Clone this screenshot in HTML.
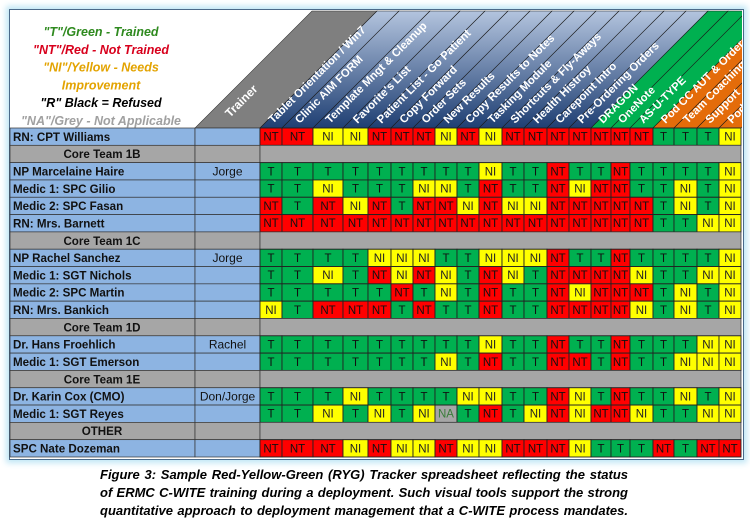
<!DOCTYPE html>
<html><head><meta charset="utf-8">
<style>
html,body{margin:0;padding:0;background:#fff;width:750px;height:519px;overflow:hidden;font-family:"Liberation Sans",sans-serif}
#frame{position:absolute;left:9px;top:9px;width:733px;height:449px;border:1px solid #4a6a8a;box-shadow:0 0 6px 3px #bfe6f5}
svg{position:absolute;left:0;top:0}
.cap{position:absolute;left:100px;width:528px;font:italic bold 13px "Liberation Sans",sans-serif;line-height:18px;top:466px;color:#000}
.cap div{text-align:justify;text-align-last:justify;white-space:nowrap;overflow:visible}
</style></head><body>
<div id="frame"></div>
<svg id="chart" width="750" height="519"></svg>
<div class="cap">
<div>Figure 3: Sample Red-Yellow-Green (RYG) Tracker spreadsheet reflecting the status</div>
<div>of ERMC C-WITE training during a deployment. Such visual tools support the strong</div>
<div>quantitative approach to deployment management that a C-WITE process mandates.</div>
</div>
<script>
const columns=["Tablet Orientation / Win7","Clinic AIM FORM","Template Mngt & Cleanup","Favorite's List","Patient List - Go Patient","Copy Forward","Order Sets","New Results","Copy Results to Notes","Tasking Module","Shortcuts & Fly-Aways","Health Histroy","Carepoint Intro","Pre-Ordering Orders","DRAGON","OneNote","AS-U-TYPE","Pod CC AUT & Orders","Team Coaching","Support","Pod"];
const columnGroups=["b","b","b","b","b","b","b","b","b","b","b","b","b","b","g","g","g","o","o","o","o"];
const rowNames=["RN: CPT Williams","Core Team 1B","NP Marcelaine Haire","Medic 1: SPC Gilio","Medic 2: SPC Fasan","RN: Mrs. Barnett","Core Team 1C","NP Rachel Sanchez","Medic 1: SGT Nichols","Medic 2: SPC Martin","RN: Mrs. Bankich","Core Team 1D","Dr. Hans Froehlich","Medic 1: SGT Emerson","Core Team 1E","Dr. Karin Cox (CMO)","Medic 1: SGT Reyes","OTHER","SPC Nate Dozeman"];
const trainers=["","","Jorge","","","","","Jorge","","","","","Rachel","","","Don/Jorge","","",""];
const statuses=[
"NT NT NI NI NT NT NT NI NT NI NT NT NT NT NT NT NT T T T NI",
"",
"T T T T T T T T T NI T T NT T T NT T T T T NI",
"T T NI T T T NI NI T NT T T NT NI NT NT T T NI T NI",
"NT T NT NI NT T NT NT NI NT NI NI NT NT NT NT NT T NI T NI",
"NT NT NT NT NT NT NT NT NT NT NT NT NT NT NT NT NT T T NI NI",
"",
"T T T T NI NI NI T T NI NI NI NT T T NT T T T T NI",
"T T NI T NT NI NT NI T NT NI T NT NT NT NT NI T T NI NI",
"T T T T T NT T NI T NT T T NT NI NT NT NT T NI T NI",
"NI T NT NT NT T NT T T NT T T NT NT NT NT NI T NI T NI",
"",
"T T T T T T T T T NI T T NT T T NT T T T NI NI",
"T T T T T T T NI T NT T T NT NT T NT T T NI NI NI",
"",
"T T T NI T T T T NI NI T T NT NI T NT T T NI T NI",
"T T NI T NI T NI NA T NT T NI NT NI NT NT NI T T NI NI",
"",
"NT NT NT NI NT NI NI NT NI NI NT NT NT NI T T T NT T NT NT"];
const legendItems=['"T"/Green - Trained','"NT"/Red - Not Trained','"NI"/Yellow - Needs','Improvement','"R" Black = Refused','"NA"/Grey - Not Applicable'];
const legendColors=["#2f8a1f","#d8001c","#e3a300","#e3a300","#000","#a0a0a0"];

const NS="http://www.w3.org/2000/svg";
const svg=document.getElementById("chart");
const colX=[260,282,313,343,368,391,413,435,457,479,502,524,547,569,591,611,630,653,674,697,719,741];
const TOP=128,BOT=457,HTOP=11,RH=(BOT-TOP)/rowNames.length;
const rowY=i=>TOP+i*RH;
const fill={T:"#00b050",NT:"#ff0000",NI:"#ffff00",NA:"#a6a6a6"};
const txtc={T:"#111",NT:"#111",NI:"#222",NA:"#3a7d3a"};
const hdrFill={b:"url(#blueg)",g:"#00b050",o:"#e46c0a"};
function el(t,a,p){const e=document.createElementNS(NS,t);for(const k in a)e.setAttribute(k,a[k]);(p||svg).appendChild(e);return e;}
const defs=el("defs",{});
const lg=el("linearGradient",{id:"blueg",x1:"0",y1:"1",x2:"0",y2:"0"},defs);
el("stop",{offset:"0","stop-color":"#1f3f73"},lg);el("stop",{offset:"1","stop-color":"#b3c4de"},lg);
const cp=el("clipPath",{id:"hclip"},defs);el("rect",{x:10,y:10,width:732,height:118},cp);
const hg=el("g",{"clip-path":"url(#hclip)"});


const H=TOP-HTOP;
const tp=el("polygon",{points:`195,${TOP} 260,${TOP} ${260+H},${HTOP} ${195+H},${HTOP}`,fill:"#7f7f7f",stroke:"#333","stroke-width":0.6},hg);


const tt=el("text",{x:0,y:0,fill:"#fff","font-size":12,"font-weight":"bold",transform:`translate(${230},${TOP-10}) rotate(-45)`},hg);
tt.textContent="Trainer";


columns.forEach((c,i)=>{
 const x0=colX[i],x1=colX[i+1];
 const p=el("polygon",{points:`${x0},${TOP} ${x1},${TOP} ${x1+H},${HTOP} ${x0+H},${HTOP}`,fill:hdrFill[columnGroups[i]],stroke:"#1a1a1a","stroke-width":0.6},hg);
 
 
 const t=el("text",{x:0,y:0,fill:"#fff","font-size":11.3,"font-weight":"bold",transform:`translate(${(x0+x1)/2+2},${TOP-4}) rotate(-45)`},hg);
 t.textContent=c;
 
 
});
legendItems.forEach((s,i)=>{
 const t=el("text",{x:101,y:36+i*17.8,"text-anchor":"middle",fill:legendColors[i],"font-size":12.5,"font-weight":"bold","font-style":"italic"});
 t.textContent=s;
 
 
});
rowNames.forEach((n,r)=>{
 const y=rowY(r),grp=statuses[r]==="";
 const nr=el("rect",{x:10,y:y,width:185,height:RH,fill:grp?"#a6a6a6":"#8db4e2",stroke:"#333","stroke-width":0.7});
 
 
 const nt=el("text",{x:grp?102:13,y:y+RH/2+4.2,"text-anchor":grp?"middle":"start","font-size":11.6,"font-weight":"bold",fill:"#111"});
 nt.textContent=n;
 
 
 const tr=el("rect",{x:195,y:y,width:65,height:RH,fill:grp?"#a6a6a6":"#8db4e2",stroke:"#333","stroke-width":0.7});
 
 
 if(trainers[r]){const t=el("text",{x:227.5,y:y+RH/2+4.2,"text-anchor":"middle","font-size":12,fill:"#111"});t.textContent=trainers[r];
  
  }
 if(grp){const g=el("rect",{x:260,y:y,width:481,height:RH,fill:"#a6a6a6",stroke:"#333","stroke-width":0.7});
  
  return;}
 statuses[r].split(" ").forEach((v,c)=>{
  const x0=colX[c],x1=colX[c+1];
  const cell=el("rect",{x:x0,y:y,width:x1-x0,height:RH,fill:fill[v],stroke:"#222","stroke-width":0.9});
  
  
  const t=el("text",{x:(x0+x1)/2,y:y+RH/2+4,"text-anchor":"middle","font-size":11.5,fill:txtc[v]});
  t.textContent=v;
  
  
 });
});
</script>
</body></html>
